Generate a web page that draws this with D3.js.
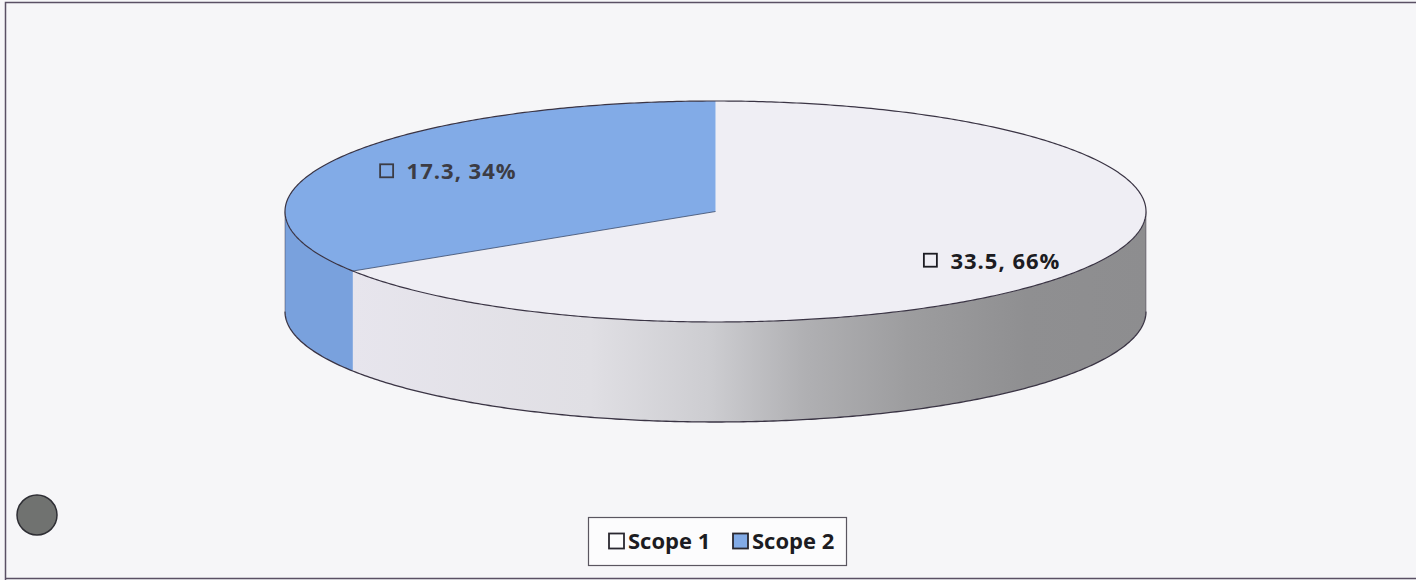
<!DOCTYPE html>
<html>
<head>
<meta charset="utf-8">
<script src="https://cdn.jsdelivr.net/npm/d3@7"></script>
<style>
  body { margin: 0; background: #f6f6f8; }
  svg { display: block; }
</style>
</head>
<body>
<script>
//data
var categories = ["Scope 1", "Scope 2"];
var values = [33.5, 17.3];
var percents = ["66%", "34%"];

//canvas
var width = 1416;
var height = 580;

//pie geometry (ellipse of the tilted top face)
var cx = 715.5, cy = 211.5, rx = 430.5, ry = 110.5, depth = 100;

//colours
var top_colours = ["#efeef4", "#82abe7"];
var side_blue = "#79a1dd";
var label_colours = ["#1c1c22", "#3c3c44"];
var edge_colour = "#3a3444";
var font = "'Open Sans', sans-serif";

var svg = d3.select("body").append("svg")
    .attr("width", width)
    .attr("height", height);

//frame round the scanned chart
svg.append("rect")
    .attr("x", 0).attr("y", 0).attr("width", width).attr("height", height)
    .attr("fill", "#f6f6f8");
svg.append("path")
    .attr("d", "M5.5,580 L5.5,2.5 L1416,2.5 M5.5,578.5 L1416,578.5")
    .attr("fill", "none")
    .attr("stroke", "#5a5064")
    .attr("stroke-width", 1.5);

var defs = svg.append("defs");
var grad = defs.append("linearGradient")
    .attr("id", "side1")
    .attr("gradientUnits", "userSpaceOnUse")
    .attr("x1", 352).attr("x2", cx + rx).attr("y1", 0).attr("y2", 0);
[[0, "#e7e5ed"], [0.3, "#e0dfe4"], [0.45, "#cdcdd1"], [0.57, "#b0b0b3"], [0.7, "#9d9d9f"], [0.85, "#8f8f91"], [1, "#8d8d8f"]]
    .forEach(function (s) { grad.append("stop").attr("offset", s[0]).attr("stop-color", s[1]); });

//angles clockwise from 12 o'clock
var pie = d3.pie().sort(null).value(function (d) { return d; });
var arcs = pie(values);

function pt(a, dy) {
    return [cx + rx * Math.sin(a), cy - ry * Math.cos(a) + (dy || 0)];
}

function arcPoints(a0, a1, dy) {
    var n = Math.max(2, Math.ceil((a1 - a0) / 0.01));
    return d3.range(n + 1).map(function (i) { return pt(a0 + (a1 - a0) * i / n, dy); });
}

var line = d3.line();

//side walls (only the front half is visible)
var sides = arcs.map(function (d, i) {
    var a0 = Math.max(d.startAngle, Math.PI / 2);
    var a1 = Math.min(d.endAngle, 3 * Math.PI / 2);
    return {i: i, a0: a0, a1: a1};
}).filter(function (s) { return s.a1 > s.a0; });

svg.selectAll("path.side")
    .data(sides)
    .enter()
    .append("path")
    .attr("class", "side")
    .attr("d", function (s) {
        var upper = arcPoints(s.a0, s.a1, 0);
        var lower = arcPoints(s.a0, s.a1, depth).reverse();
        return line(upper.concat(lower)) + "Z";
    })
    .attr("fill", function (s) { return s.i == 0 ? "url(#side1)" : side_blue; })
    .attr("stroke", "none");

//bottom outline of the wall
svg.append("path")
    .attr("d", line(arcPoints(Math.PI / 2, 3 * Math.PI / 2, depth)))
    .attr("fill", "none")
    .attr("stroke", edge_colour)
    .attr("stroke-width", 1.3);

//left and right outline of the wall
svg.append("path")
    .attr("d", line([pt(Math.PI / 2), pt(Math.PI / 2, depth)]) + line([pt(3 * Math.PI / 2), pt(3 * Math.PI / 2, depth)]))
    .attr("fill", "none")
    .attr("stroke", edge_colour)
    .attr("stroke-width", 0.8)
    .attr("stroke-opacity", 0.6);

//top faces
svg.selectAll("path.top")
    .data(arcs)
    .enter()
    .append("path")
    .attr("class", "top")
    .attr("d", function (d) {
        return line([[cx, cy]].concat(arcPoints(d.startAngle, d.endAngle, 0))) + "Z";
    })
    .attr("fill", function (d, i) { return top_colours[i]; })
    .attr("stroke", "none");

//top outline and the slice edge
svg.append("path")
    .attr("d", line(arcPoints(0, 2 * Math.PI, 0)) + "Z")
    .attr("fill", "none")
    .attr("stroke", edge_colour)
    .attr("stroke-width", 1.2);
svg.append("path")
    .attr("d", line([[cx, cy], pt(arcs[1].startAngle)]))
    .attr("fill", "none")
    .attr("stroke", "#3a4a6a")
    .attr("stroke-width", 1)
    .attr("stroke-opacity", 0.8);

//data labels
var label_radius = 0.72;
var label_dy = [11, -2];
var labels = svg.selectAll("g.label")
    .data(arcs)
    .enter()
    .append("g")
    .attr("class", "label")
    .attr("transform", function (d, i) {
        var m = (d.startAngle + d.endAngle) / 2;
        var x = cx + rx * label_radius * Math.sin(m);
        var y = cy - ry * label_radius * Math.cos(m) + label_dy[i];
        return "translate(" + x + "," + y + ")";
    });

labels.append("rect")
    .attr("x", -63.5)
    .attr("y", -7)
    .attr("width", 13)
    .attr("height", 13)
    .attr("fill", "none")
    .attr("stroke", function (d, i) { return label_colours[i]; })
    .attr("stroke-width", 1.8);

labels.append("text")
    .attr("x", -37)
    .attr("dy", "0.36em")
    .attr("font-family", font)
    .attr("font-weight", "bold")
    .attr("font-size", 22)
    .attr("letter-spacing", 1)
    .attr("fill", function (d, i) { return label_colours[i]; })
    .text(function (d, i) { return d.data.toFixed(1) + ", " + percents[i]; });

//legend
var legend = svg.append("g").attr("transform", "translate(588,517)");
legend.append("rect")
    .attr("x", 0.5).attr("y", 0.5).attr("width", 258).attr("height", 48)
    .attr("fill", "#fcfcfd")
    .attr("stroke", "#5a5660")
    .attr("stroke-width", 1.2);

var legend_x = [21, 145];
var items = legend.selectAll("g.item")
    .data(categories)
    .enter()
    .append("g")
    .attr("class", "item")
    .attr("transform", function (d, i) { return "translate(" + legend_x[i] + ",24)"; });

items.append("rect")
    .attr("x", 0).attr("y", -7.5).attr("width", 15).attr("height", 15)
    .attr("fill", function (d, i) { return i == 0 ? "#fdfdfd" : top_colours[1]; })
    .attr("stroke", "#2a2830")
    .attr("stroke-width", 1.8);

items.append("text")
    .attr("x", 19)
    .attr("dy", "0.36em")
    .attr("font-family", font)
    .attr("font-weight", "bold")
    .attr("font-size", 22)
    .attr("fill", "#1c1c22")
    .text(function (d) { return d; });

//grey punch mark in the scan
svg.append("circle")
    .attr("cx", 37).attr("cy", 515).attr("r", 20)
    .attr("fill", "#707270")
    .attr("stroke", "#2e2e34")
    .attr("stroke-width", 1.5);
</script>
</body>
</html>
